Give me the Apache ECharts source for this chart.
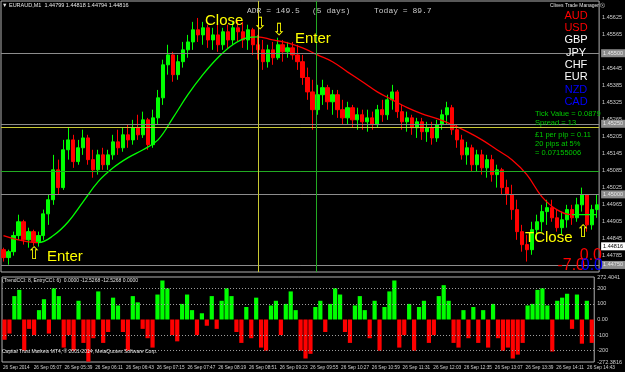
<!DOCTYPE html>
<html>
<head>
<meta charset="utf-8">
<script src="https://cdn.jsdelivr.net/npm/echarts@6.0.0/dist/echarts.min.js"></script>
<style>
html, body { margin: 0; padding: 0; background: #000; }
#chart { width: 625px; height: 372px; }
</style>
</head>
<body>
<div id="chart"></div>
<script>
// EURAUD M1, 5-minute buckets: [open, close, low, high]
const candles = [
  [1.44804, 1.44776, 1.44762, 1.44811], [1.44776, 1.44797, 1.44751, 1.44804], [1.44797, 1.44854, 1.44783, 1.44868],
  [1.44854, 1.44903, 1.44839, 1.44928], [1.44903, 1.44839, 1.44822, 1.44910], [1.44839, 1.44868, 1.44811, 1.44882],
  [1.44868, 1.44832, 1.44818, 1.44875], [1.44832, 1.44854, 1.44815, 1.44868], [1.44854, 1.44931, 1.44839, 1.44946],
  [1.44931, 1.44981, 1.44892, 1.44999], [1.44981, 1.45087, 1.44963, 1.45140], [1.45087, 1.45024, 1.44999, 1.45123],
  [1.45024, 1.45158, 1.45016, 1.45193], [1.45158, 1.45193, 1.45123, 1.45236], [1.45193, 1.45116, 1.45094, 1.45211],
  [1.45116, 1.45165, 1.45105, 1.45193], [1.45165, 1.45200, 1.45140, 1.45229], [1.45200, 1.45123, 1.45105, 1.45211],
  [1.45123, 1.45087, 1.45059, 1.45158], [1.45087, 1.45140, 1.45070, 1.45158], [1.45140, 1.45105, 1.45087, 1.45165],
  [1.45105, 1.45140, 1.45087, 1.45158], [1.45140, 1.45186, 1.45123, 1.45211], [1.45186, 1.45165, 1.45140, 1.45229],
  [1.45165, 1.45211, 1.45151, 1.45236], [1.45211, 1.45193, 1.45165, 1.45247], [1.45193, 1.45236, 1.45176, 1.45264],
  [1.45236, 1.45211, 1.45193, 1.45282], [1.45211, 1.45264, 1.45200, 1.45293], [1.45264, 1.45176, 1.45158, 1.45271],
  [1.45176, 1.45271, 1.45165, 1.45300], [1.45271, 1.45342, 1.45247, 1.45370], [1.45342, 1.45459, 1.45317, 1.45477],
  [1.45459, 1.45494, 1.45424, 1.45530], [1.45494, 1.45424, 1.45399, 1.45505], [1.45424, 1.45470, 1.45406, 1.45494],
  [1.45470, 1.45512, 1.45449, 1.45540], [1.45512, 1.45540, 1.45484, 1.45565], [1.45540, 1.45583, 1.45512, 1.45611],
  [1.45583, 1.45565, 1.45540, 1.45625], [1.45565, 1.45590, 1.45530, 1.45611], [1.45590, 1.45547, 1.45519, 1.45601],
  [1.45547, 1.45565, 1.45512, 1.45590], [1.45565, 1.45530, 1.45505, 1.45601], [1.45530, 1.45576, 1.45512, 1.45590],
  [1.45576, 1.45547, 1.45519, 1.45601], [1.45547, 1.45590, 1.45530, 1.45611], [1.45590, 1.45576, 1.45540, 1.45618],
  [1.45576, 1.45547, 1.45519, 1.45611], [1.45547, 1.45583, 1.45512, 1.45601], [1.45583, 1.45530, 1.45494, 1.45590],
  [1.45530, 1.45512, 1.45477, 1.45565], [1.45512, 1.45470, 1.45441, 1.45547], [1.45470, 1.45512, 1.45449, 1.45530],
  [1.45512, 1.45484, 1.45459, 1.45540], [1.45484, 1.45530, 1.45477, 1.45555], [1.45530, 1.45505, 1.45470, 1.45547],
  [1.45505, 1.45519, 1.45484, 1.45540], [1.45519, 1.45494, 1.45477, 1.45540], [1.45494, 1.45470, 1.45441, 1.45530],
  [1.45470, 1.45414, 1.45388, 1.45494], [1.45414, 1.45363, 1.45335, 1.45449], [1.45363, 1.45300, 1.45229, 1.45406],
  [1.45300, 1.45353, 1.45282, 1.45388], [1.45353, 1.45378, 1.45317, 1.45406], [1.45378, 1.45328, 1.45300, 1.45388],
  [1.45328, 1.45353, 1.45282, 1.45370], [1.45353, 1.45300, 1.45271, 1.45370], [1.45300, 1.45271, 1.45247, 1.45335],
  [1.45271, 1.45307, 1.45247, 1.45328], [1.45307, 1.45264, 1.45236, 1.45317], [1.45264, 1.45282, 1.45229, 1.45307],
  [1.45282, 1.45257, 1.45229, 1.45300], [1.45257, 1.45271, 1.45222, 1.45300], [1.45271, 1.45247, 1.45229, 1.45293],
  [1.45247, 1.45300, 1.45236, 1.45317], [1.45300, 1.45282, 1.45257, 1.45335], [1.45282, 1.45335, 1.45264, 1.45353],
  [1.45335, 1.45363, 1.45300, 1.45388], [1.45363, 1.45293, 1.45271, 1.45370], [1.45293, 1.45257, 1.45229, 1.45317],
  [1.45257, 1.45271, 1.45222, 1.45293], [1.45271, 1.45236, 1.45211, 1.45282], [1.45236, 1.45257, 1.45200, 1.45271],
  [1.45257, 1.45222, 1.45193, 1.45271], [1.45222, 1.45236, 1.45186, 1.45257], [1.45236, 1.45200, 1.45176, 1.45257],
  [1.45200, 1.45247, 1.45186, 1.45264], [1.45247, 1.45282, 1.45229, 1.45300], [1.45282, 1.45307, 1.45247, 1.45328],
  [1.45307, 1.45229, 1.45211, 1.45317], [1.45229, 1.45193, 1.45165, 1.45247], [1.45193, 1.45140, 1.45123, 1.45211],
  [1.45140, 1.45165, 1.45105, 1.45186], [1.45165, 1.45105, 1.45080, 1.45176], [1.45105, 1.45140, 1.45080, 1.45158],
  [1.45140, 1.45094, 1.45070, 1.45158], [1.45094, 1.45123, 1.45059, 1.45140], [1.45123, 1.45070, 1.45045, 1.45140],
  [1.45070, 1.45087, 1.45024, 1.45105], [1.45087, 1.45024, 1.44999, 1.45094], [1.45024, 1.44999, 1.44963, 1.45052],
  [1.44999, 1.44946, 1.44910, 1.45034], [1.44946, 1.44868, 1.44839, 1.44981], [1.44868, 1.44822, 1.44797, 1.44892],
  [1.44822, 1.44804, 1.44762, 1.44857], [1.44804, 1.44875, 1.44786, 1.44903], [1.44875, 1.44903, 1.44839, 1.44928],
  [1.44903, 1.44939, 1.44868, 1.44963], [1.44939, 1.44953, 1.44892, 1.44981], [1.44953, 1.44917, 1.44903, 1.44981],
  [1.44917, 1.44882, 1.44868, 1.44946], [1.44882, 1.44910, 1.44857, 1.44939], [1.44910, 1.44946, 1.44882, 1.44963],
  [1.44946, 1.44917, 1.44892, 1.44963], [1.44917, 1.44963, 1.44903, 1.44988], [1.44963, 1.44999, 1.44939, 1.45024],
  [1.44999, 1.44892, 1.44868, 1.44999], [1.44892, 1.44946, 1.44875, 1.44963], [1.44946, 1.44963, 1.44917, 1.44999]
];

// slope-coloured moving average, [bucket index, price]
const maPoints = [
  [0, 1.44854], [3, 1.44839], [7, 1.44829], [10, 1.44854], [13, 1.44903], [16, 1.44974], [19, 1.45045],
  [22, 1.45094], [25, 1.45130], [28, 1.45158], [31, 1.45193], [34, 1.45271], [37, 1.45353], [40, 1.45424],
  [43, 1.45484], [46, 1.45530], [49, 1.45555], [51, 1.45558], [54, 1.45547], [57, 1.45537], [60, 1.45519],
  [63, 1.45494], [66, 1.45470], [69, 1.45434], [72, 1.45399], [75, 1.45363], [78, 1.45335], [81, 1.45307],
  [84, 1.45285], [87, 1.45268], [90, 1.45247], [93, 1.45222], [96, 1.45193], [99, 1.45158], [102, 1.45123],
  [105, 1.45070], [108, 1.44992], [111, 1.44946], [114, 1.44928], [117, 1.44928], [119, 1.44928]
];
const maTurns = [7, 51, 114];

// TrendCCI histogram, one value per bucket
const cci = [
  -130, -90, 150, 190, -200, -60, -100, 60, 130, -90,
  200, 150, -180, -100, -200, 120, -150, -270, -120, 180,
  -150, -80, 140, 90, -80, -200, 150, 110, -60, -120,
  -180, 160, 250, 200, -100, -140, 100, 160, 60, -100,
  40, -40, 150, -60, 120, 200, 150, -80, -150, 80,
  -120, 140, -180, -200, 90, 120, -100, 100, 180, 60,
  -200, -250, -220, 80, 120, -80, 100, 200, 160, -80,
  -150, 90, 150, 60, -120, 120, -200, 80, 180, 250,
  -180, -100, 100, -200, 80, 120, -150, -100, 150, 220,
  120, -150, -180, 60, -120, 80, -150, 60, -180, 100,
  -120, -200, -180, -250, -225, -150, 90, 100, 190, 200,
  90, -205, 120, 140, 165, -60, 160, -155, 120, -150
];

const priceTicks = [1.45625, 1.45565, 1.45445, 1.45385, 1.45325, 1.45265, 1.45205, 1.45145,
  1.45085, 1.45025, 1.44965, 1.44905, 1.44845, 1.44785];
const roundLevels = [1.45500, 1.45250, 1.45000, 1.44750];
const yellowLevel = 1.45239;
const greenLevel = 1.45083;
const lastPrice = 1.44816;
const closeLine = 51.2;
const enterLine = 62.7;

const cciTicks = [272.4041, 200, 100, 0, -100, -200, -272.3816];
const cciLevels = [200, 100, -100, -200];

const timeTicks = [0, 32, 64, 96, 128, 160, 192, 224, 256, 288, 320, 352, 384, 416, 448, 480, 512, 544, 576, 608];
const timeLabels = ['26 Sep 2014', '26 Sep 05:07', '26 Sep 05:39', '26 Sep 06:11', '26 Sep 06:43', '26 Sep 07:15',
  '26 Sep 07:47', '26 Sep 08:19', '26 Sep 08:51', '26 Sep 09:23', '26 Sep 09:55', '26 Sep 10:27', '26 Sep 10:59',
  '26 Sep 11:31', '26 Sep 12:03', '26 Sep 12:35', '26 Sep 13:07', '26 Sep 13:39', '26 Sep 14:11', '26 Sep 14:43'];

const currencies = ['AUD', 'USD', 'GBP', 'JPY', 'CHF', 'EUR', 'NZD', 'CAD'];
const currencyColors = ['#ff0000', '#ff0000', '#ffffff', '#ffffff', '#ffffff', '#ffffff', '#0000ff', '#0000ff'];
const infoLines = ['Tick Value = 0.0879', 'Spread = 13', '£1 per pip = 0.11', '20 pips at 5%', '= 0.07155006'];

const chart = echarts.init(document.getElementById('chart'));

const SANS = '"Liberation Sans", Arial, sans-serif';
const small = { color: '#d0d0d0', fontSize: 5.5, fontFamily: SANS };

const boxLabel = (bg, fg) => ({
  show: true, position: 'end', distance: 2, formatter: p => p.value.toFixed(5),
  backgroundColor: bg, color: fg, fontSize: 5.5, fontFamily: SANS, padding: [1, 2]
});
const hLine = (v, color, label) => ({
  yAxis: v,
  lineStyle: color ? { color, width: 1, type: 'solid' } : { color: 'rgba(0,0,0,0)', width: 0 },
  label: label || { show: false }
});

const graphic = [];
const txt = (text, x, y, font, fill, align) => graphic.push({
  type: 'text', x, y, silent: true, z: 100,
  style: { text, font, fill, align: align || 'left', verticalAlign: 'middle' }
});
txt('▼ EURAUD,M1  1.44799 1.44818 1.44794 1.44816', 2, 5, '5.5px ' + SANS, '#e8e8e8');
txt('ADR = 149.5', 247, 11, '8px "Liberation Mono", monospace', '#c8c8c8');
txt('(5 days)', 312, 11, '8px "Liberation Mono", monospace', '#c8c8c8');
txt('Today = 89.7', 374, 11, '8px "Liberation Mono", monospace', '#c8c8c8');
txt('Clives Trade Manager ⓧ', 550, 5.5, '5px ' + SANS, '#e0e0e0');
currencies.forEach((c, i) => txt(c, 576, 15.7 + i * 12.3, '11px ' + SANS, currencyColors[i], 'center'));
const infoY = [113.5, 123, 134.5, 143.5, 152.5];
infoLines.forEach((t, i) => txt(t, 535, infoY[i], '7.5px ' + SANS, '#00c800'));
txt('Close', 205, 21, '15px ' + SANS, '#ffff00');
txt('⇩', 260, 25, '17px "DejaVu Sans"', '#ffff00', 'center');
txt('⇩', 279, 31, '17px "DejaVu Sans"', '#ffff00', 'center');
txt('Enter', 295, 39, '15px ' + SANS, '#ffff00');
txt('⇧', 34, 255, '17px "DejaVu Sans"', '#ffff00', 'center');
txt('Enter', 47, 257, '15px ' + SANS, '#ffff00');
txt('TClose', 525, 238, '15px ' + SANS, '#ffff00');
txt('⇧', 583, 233, '17px "DejaVu Sans"', '#ffff00', 'center');
txt('0.0', 602, 256, '16px ' + SANS, '#ff0000', 'right');
txt('-7.0', 585, 266, '16px ' + SANS, '#ff0000', 'right');
txt('0.0', 603, 266, '16px ' + SANS, '#0000ff', 'right');
txt('(TrendCCI: 8, EntryCCI: 6)  0.0000 -12.5268 -12.5268 0.0000', 2, 281, '5px ' + SANS, '#e0e0e0');
txt('Capital Trust Markets MT4, © 2001-2014, MetaQuotes Software Corp.', 2, 352, '5px ' + SANS, '#e0e0e0');

chart.setOption({
  backgroundColor: '#000000',
  animation: false,
  grid: [
    { left: 1, right: 21, top: 1, height: 271, show: true, borderColor: '#b0b0b0', borderWidth: 1, backgroundColor: 'transparent' },
    { left: 1, right: 21, top: 277, height: 85, show: true, borderColor: '#b0b0b0', borderWidth: 1, backgroundColor: 'transparent' }
  ],
  xAxis: [
    { type: 'category', gridIndex: 0, data: candles.map((_, i) => i), show: false },
    { type: 'value', gridIndex: 0, min: -0.5, max: candles.length - 0.5, show: false },
    { type: 'category', gridIndex: 1, data: cci.map((_, i) => i), show: false },
    { type: 'value', gridIndex: 1, min: -1, max: 615.5, position: 'bottom',
      axisLine: { show: false }, axisTick: { show: false }, splitLine: { show: false },
      axisLabel: { color: '#d0d0d0', fontSize: 4.7, fontFamily: SANS, customValues: timeTicks,
        align: 'left', margin: 3, interval: 0, hideOverlap: false, showMinLabel: true, showMaxLabel: true,
        formatter: v => timeLabels[timeTicks.indexOf(v)] } }
  ],
  yAxis: [
    { type: 'value', gridIndex: 0, position: 'right', min: 1.44725, max: 1.45685,
      axisLine: { show: false }, axisTick: { show: false }, splitLine: { show: false },
      axisLabel: { ...small, customValues: priceTicks, margin: 3, formatter: v => v.toFixed(5) } },
    { type: 'value', gridIndex: 1, position: 'right', min: -272.3816, max: 272.4041,
      axisLine: { show: false }, axisTick: { show: false }, splitLine: { show: false },
      axisLabel: { ...small, customValues: cciTicks, margin: 3,
        formatter: v => v === 0 ? '0.00' : (Number.isInteger(v) ? String(v) : v.toFixed(4)) } }
  ],
  visualMap: {
    type: 'piecewise', show: false, seriesIndex: 1, dimension: 0,
    pieces: [
      { lt: maTurns[0], color: '#ff0000' },
      { gte: maTurns[0], lt: maTurns[1], color: '#00ff00' },
      { gte: maTurns[1], lt: maTurns[2], color: '#ff0000' },
      { gte: maTurns[2], color: '#00ff00' }
    ]
  },
  series: [
    {
      type: 'candlestick', xAxisIndex: 0, yAxisIndex: 0, data: candles, barWidth: '75%',
      itemStyle: { color: '#00ff00', color0: '#ff0000', borderColor: '#00ff00', borderColor0: '#ff0000', borderWidth: 1 },
      markLine: {
        silent: true, symbol: ['none', 'none'], animation: false, precision: 5,
        data: [
          ...roundLevels.map(v => hLine(v, '#8c8c8c', boxLabel('#8c8c8c', '#e8e8e8'))),
          hLine(yellowLevel, '#c8c832'),
          hLine(greenLevel, '#22aa22'),
          hLine(lastPrice, null, boxLabel('#ffffff', '#000000'))
        ]
      }
    },
    {
      type: 'line', xAxisIndex: 1, yAxisIndex: 0, data: maPoints, smooth: 0.4, showSymbol: false,
      lineStyle: { width: 1.3 },
      markLine: {
        silent: true, symbol: ['none', 'none'], animation: false, precision: 5, label: { show: false },
        data: [
          { xAxis: closeLine, lineStyle: { color: '#c8c832', width: 1, type: 'solid' } },
          { xAxis: enterLine, lineStyle: { color: '#22aa22', width: 1, type: 'solid' } }
        ]
      }
    },
    {
      type: 'bar', xAxisIndex: 2, yAxisIndex: 1, data: cci, barCategoryGap: '15%',
      itemStyle: { color: p => p.value >= 0 ? '#00ff00' : '#ff0000' },
      markLine: {
        silent: true, symbol: ['none', 'none'], animation: false, label: { show: false },
        lineStyle: { color: '#a0a0a0', width: 1, type: [1, 2] },
        data: cciLevels.map(v => ({ yAxis: v }))
      }
    }
  ],
  graphic
});
</script>
</body>
</html>
